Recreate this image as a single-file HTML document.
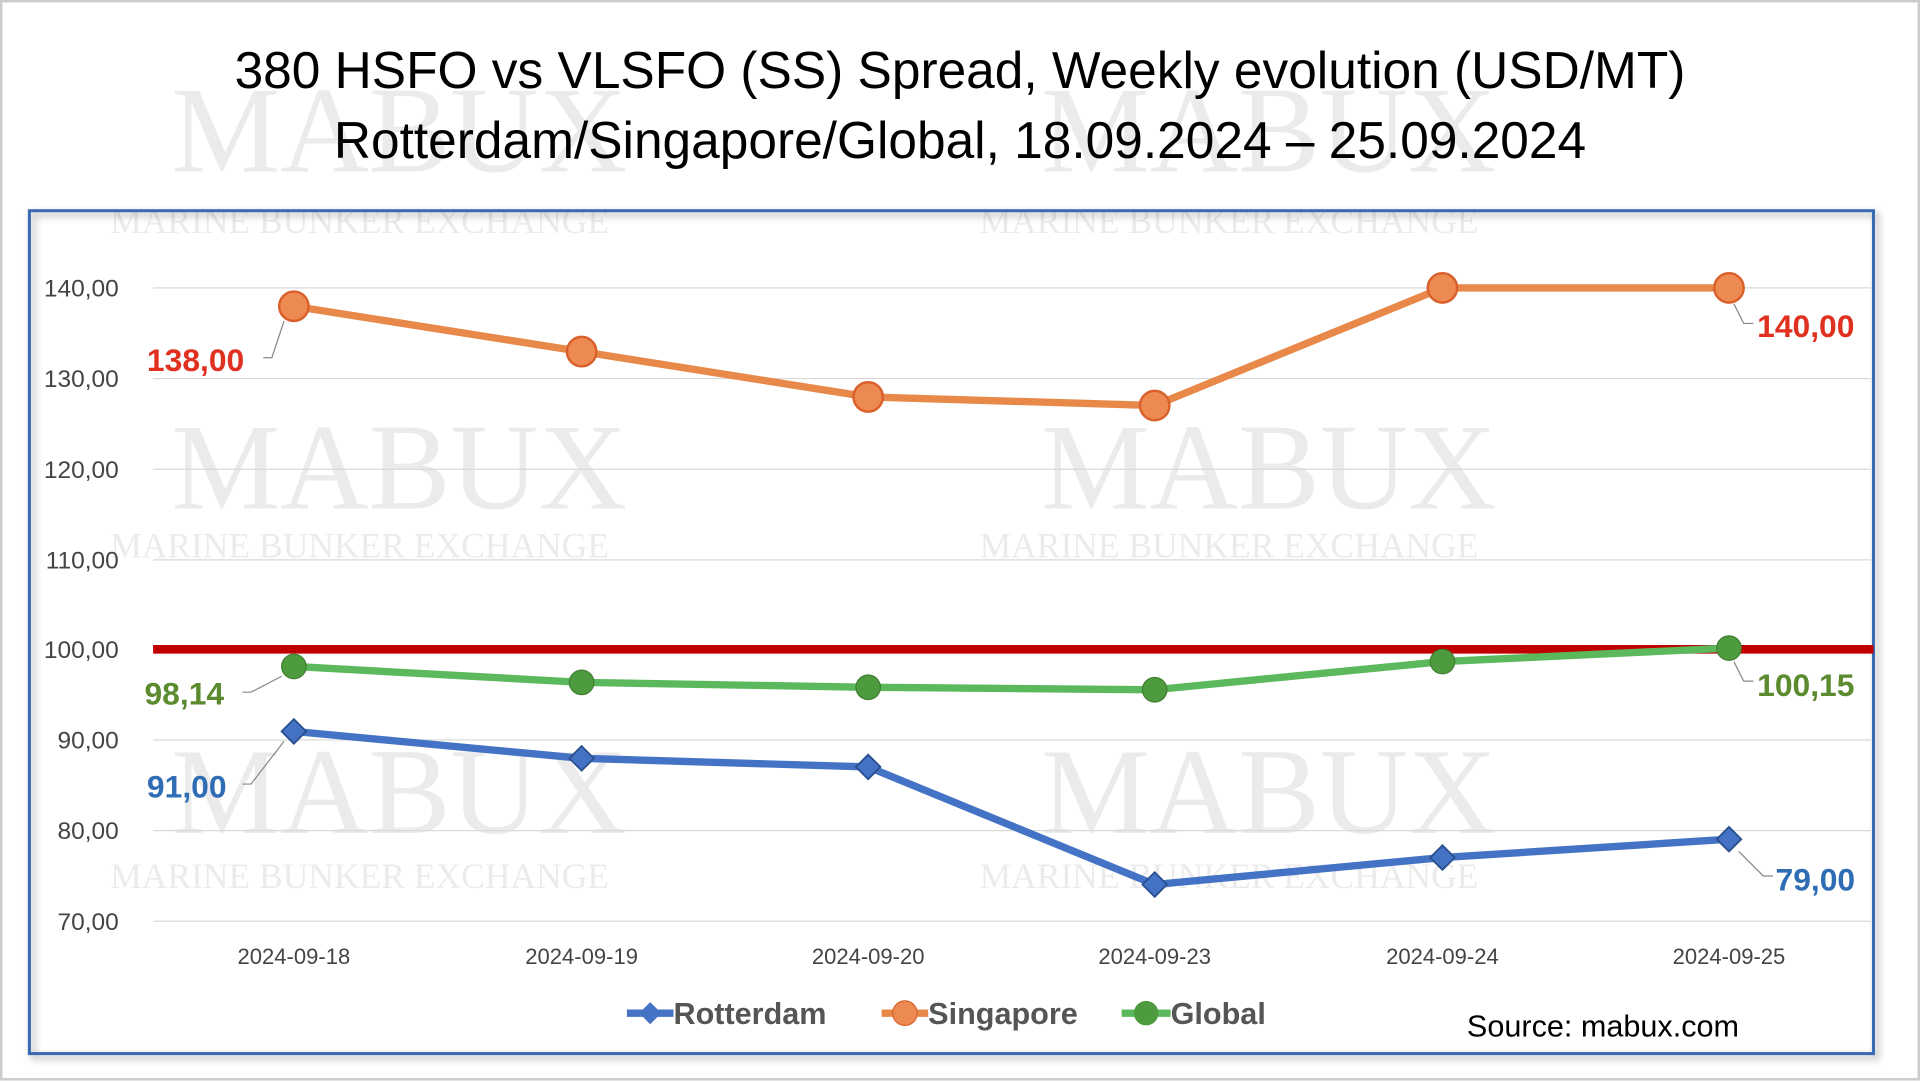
<!DOCTYPE html>
<html><head><meta charset="utf-8"><style>
html,body{margin:0;padding:0;background:#fff;}
svg{display:block;}
text{font-family:"Liberation Sans",sans-serif;}
text.wm{font-family:"Liberation Serif",serif;}
</style></head><body>
<svg width="1920" height="1083" viewBox="0 0 1568 884" preserveAspectRatio="none" xmlns="http://www.w3.org/2000/svg">
<defs><filter id="sh" x="-5%" y="-5%" width="110%" height="110%"><feDropShadow dx="3" dy="3" stdDeviation="3" flood-color="#000" flood-opacity="0.35"/></filter></defs>
<rect x="0" y="0" width="1568" height="884" fill="#fff"/>
<rect x="1" y="1" width="1566" height="880" fill="none" stroke="#ccc" stroke-width="2"/>
<g fill="#bbb" opacity="0.28">
<text class="wm" x="140" y="140" font-size="100">MABUX</text>
<text class="wm" x="850" y="140" font-size="100">MABUX</text>
<text class="wm" x="90" y="190" font-size="29">MARINE BUNKER EXCHANGE</text>
<text class="wm" x="800" y="190" font-size="29">MARINE BUNKER EXCHANGE</text>
<text class="wm" x="140" y="415" font-size="100">MABUX</text>
<text class="wm" x="850" y="415" font-size="100">MABUX</text>
<text class="wm" x="90" y="455" font-size="29">MARINE BUNKER EXCHANGE</text>
<text class="wm" x="800" y="455" font-size="29">MARINE BUNKER EXCHANGE</text>
<text class="wm" x="140" y="680" font-size="100">MABUX</text>
<text class="wm" x="850" y="680" font-size="100">MABUX</text>
<text class="wm" x="90" y="725" font-size="29">MARINE BUNKER EXCHANGE</text>
<text class="wm" x="800" y="725" font-size="29">MARINE BUNKER EXCHANGE</text>
</g>
<text x="784" y="72" font-size="42" text-anchor="middle" fill="#000">380 HSFO vs VLSFO (SS) Spread, Weekly evolution (USD/MT)</text>
<text x="784" y="129" font-size="42" text-anchor="middle" fill="#000">Rotterdam/Singapore/Global, 18.09.2024 – 25.09.2024</text>
<rect x="24" y="172" width="1506" height="688" fill="none" stroke="#3b6bb5" stroke-width="2.5" filter="url(#sh)"/>
<g stroke="#d9d9d9" stroke-width="1">
<line x1="125" x2="1528" y1="235" y2="235"/><line x1="125" x2="1528" y1="309" y2="309"/>
<line x1="125" x2="1528" y1="383" y2="383"/><line x1="125" x2="1528" y1="457" y2="457"/>
<line x1="125" x2="1528" y1="604" y2="604"/><line x1="125" x2="1528" y1="678" y2="678"/>
<line x1="125" x2="1528" y1="752" y2="752"/>
</g>
<g font-size="20" fill="#444" text-anchor="end">
<text x="97" y="242">140,00</text><text x="97" y="316">130,00</text><text x="97" y="390">120,00</text>
<text x="97" y="464">110,00</text><text x="97" y="537">100,00</text><text x="97" y="611">90,00</text>
<text x="97" y="685">80,00</text><text x="97" y="759">70,00</text>
</g>
<g font-size="18" fill="#444" text-anchor="middle">
<text x="240" y="787">2024-09-18</text><text x="475" y="787">2024-09-19</text><text x="709" y="787">2024-09-20</text>
<text x="943" y="787">2024-09-23</text><text x="1178" y="787">2024-09-24</text><text x="1412" y="787">2024-09-25</text>
</g>
<line x1="125" x2="1530" y1="530" y2="530" stroke="#c00000" stroke-width="7"/>
<polyline points="240,250 475,287 709,324 943,331 1178,235 1412,235" fill="none" stroke="#e8894a" stroke-width="6"/>
<g fill="#ed8a52" stroke="#d9602b" stroke-width="2">
<circle cx="240" cy="250" r="12"/><circle cx="475" cy="287" r="12"/><circle cx="709" cy="324" r="12"/>
<circle cx="943" cy="331" r="12"/><circle cx="1178" cy="235" r="12"/><circle cx="1412" cy="235" r="12"/>
</g>
<polyline points="240,544 475,557 709,561 943,563 1178,540 1412,529" fill="none" stroke="#5cb85c" stroke-width="6"/>
<g fill="#4e9a3f" stroke="#3f7f30" stroke-width="1">
<circle cx="240" cy="544" r="10"/><circle cx="475" cy="557" r="10"/><circle cx="709" cy="561" r="10"/>
<circle cx="943" cy="563" r="10"/><circle cx="1178" cy="540" r="10"/><circle cx="1412" cy="529" r="10"/>
</g>
<polyline points="240,597 475,619 709,626 943,722 1178,700 1412,685" fill="none" stroke="#4472c4" stroke-width="6"/>
<g fill="#4472c4" stroke="#2a4f8f" stroke-width="1.5">
<polygon points="240,587 250,597 240,607 230,597"/><polygon points="475,609 485,619 475,629 465,619"/>
<polygon points="709,616 719,626 709,636 699,626"/><polygon points="943,712 953,722 943,732 933,722"/>
<polygon points="1178,690 1188,700 1178,710 1168,700"/><polygon points="1412,675 1422,685 1412,695 1402,685"/>
</g>
<g stroke="#888" stroke-width="1" fill="none">
<polyline points="215,292 222,292 232,262"/><polyline points="1432,264 1424,264 1416,248"/>
<polyline points="198,565 205,565 230,552"/><polyline points="1432,556 1424,556 1416,540"/>
<polyline points="198,640 205,640 232,605"/><polyline points="1448,715 1440,715 1420,695"/>
</g>
<g font-size="26" font-weight="bold">
<text x="120" y="303" fill="#e03020">138,00</text><text x="1435" y="275" fill="#e03020">140,00</text>
<text x="118" y="575" fill="#5b8a2f">98,14</text><text x="1435" y="568" fill="#5b8a2f">100,15</text>
<text x="120" y="651" fill="#2e6db4">91,00</text><text x="1450" y="727" fill="#2e6db4">79,00</text>
</g>
<g font-size="25" font-weight="bold">
<line x1="512" x2="550" y1="827" y2="827" stroke="#4472c4" stroke-width="6"/><polygon points="531,818 540,827 531,836 522,827" fill="#4472c4"/>
<text x="550" y="836" fill="#555">Rotterdam</text>
<line x1="720" x2="758" y1="827" y2="827" stroke="#e8894a" stroke-width="6"/><circle cx="739" cy="827" r="10" fill="#ed8a52" stroke="#d9602b"/>
<text x="758" y="836" fill="#555">Singapore</text>
<line x1="916" x2="956" y1="827" y2="827" stroke="#5cb85c" stroke-width="6"/><circle cx="936" cy="827" r="10" fill="#4e9a3f"/>
<text x="956" y="836" fill="#555">Global</text>
</g>
<text x="1198" y="846" font-size="25" fill="#000">Source: mabux.com</text>
</svg>
</body></html>
